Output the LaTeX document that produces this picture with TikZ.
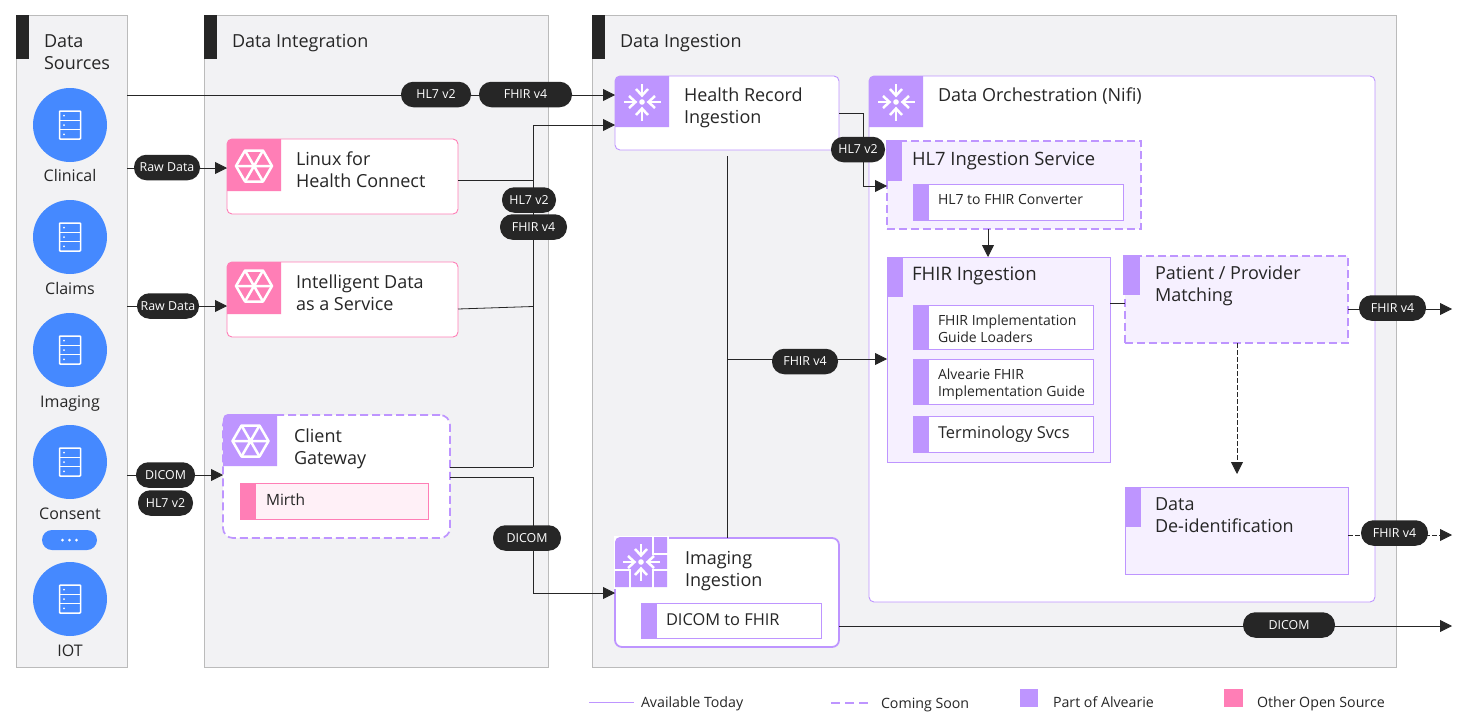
\documentclass[tikz,border=0pt]{standalone}
\usepackage{fontspec}
\setmainfont{Open Sans}
\usetikzlibrary{arrows.meta,calc}
\definecolor{ink}{HTML}{262626}
\definecolor{panelfill}{HTML}{F2F2F4}
\definecolor{panelline}{HTML}{BBBBBB}
\definecolor{purp}{HTML}{BE95FF}
\definecolor{purpfill}{HTML}{F6F0FF}
\definecolor{pink}{HTML}{FF7EB6}
\definecolor{pinkfill}{HTML}{FFF0F7}
\definecolor{blu}{HTML}{4589FF}
\tikzset{
  every node/.style={inner sep=0pt,outer sep=0pt},
  panel/.style={draw=panelline,fill=panelfill,line width=1pt},
  pinkbox/.style={draw=pink,fill=white,line width=.9pt,rounded corners=5},
  purpbox/.style={draw=purp,fill=white,line width=.9pt,rounded corners=5},
  purpboxthick/.style={draw=purp,fill=white,line width=1.8pt,rounded corners=7},
  dashround/.style={draw=purp,fill=white,line width=1.7pt,rounded corners=10,dash pattern=on 8pt off 4pt},
  dashsquare/.style={draw=purp,fill=purpfill,line width=1.7pt,dash pattern=on 8pt off 4pt},
  softbox/.style={draw=purp,fill=purpfill,line width=.9pt},
  innerbox/.style={draw=purp,fill=white,line width=.9pt},
  mirthbox/.style={draw=pink,fill=pinkfill,line width=.9pt},
  conn/.style={draw=ink,line width=.8pt},
  arr/.style={conn,-{Triangle[length=12pt,width=12pt]}},
  dconn/.style={draw=ink,line width=.8pt,dash pattern=on 4.5pt off 2.5pt},
  darr/.style={dconn,-{Triangle[length=12pt,width=12pt]}},
  pillnode/.style={fill=ink,text=white,rounded corners=12.4pt,minimum height=25.5pt,font=\fontsize{12.4}{14}\selectfont},
  srcdisc/.style={circle,fill=blu,minimum size=74pt},
  srclabel/.style={anchor=base,text=ink,font=\fontsize{16}{20}\selectfont},
  legendtext/.style={anchor=base west,text=ink,font=\fontsize{14.2}{16}\selectfont},
}
\newcommand\bx[6]{\node[#6,anchor=north west,minimum width={#4-#2},minimum height={#5-#3}] (#1) at (#2,#3) {};}
\newcommand\tile[5]{\fill[#5] (#1,#4) -- (#1,#2+5) arc (180:90:5pt) -- (#3,#2) -- (#3,#4) -- cycle;}
\newcommand\sq[5]{\fill[#5] (#1,#2) rectangle (#3,#4);}
\newcommand\tx[6][]{\node[anchor=north west,align=left,text=ink,font=\fontsize{#5}{22}\selectfont,#1] (#2) at (#3,#4-9.4) {\strut #6};}
\newcommand\txs[4]{\node[anchor=north west,align=left,text=ink,font=\fontsize{14}{17}\selectfont] (#1) at (#2,#3-6) {\strut #4};}
\newcommand\pill[5]{\node[pillnode,minimum width=#4pt] (#1) at (#2,#3) {#5};}
\newcommand\hexicon[2]{\begin{scope}[shift={(#1,#2)},draw=white,line width=2.5pt,line join=round]
 \draw (-18,0)--(-9,-15.5)--(9,-15.5)--(18,0)--(9,15.5)--(-9,15.5)--cycle;
 \draw (-18,0)--(18,0) (-9,-15.5)--(9,15.5) (9,-15.5)--(-9,15.5);
 \end{scope}}
\newcommand\ingicon[2]{\begin{scope}[shift={(#1,#2)},draw=white,line width=2.5pt]
 \fill[white] (0,0) circle (2.8pt);
 \foreach \a in {0,90,180,270}{\begin{scope}[rotate=\a]
   \draw (6.5,0)--(18.5,0);
   \draw (13,-6)--(6.5,0)--(13,6);
 \end{scope}}
 \end{scope}}
\newcommand\servericon[2]{\begin{scope}[shift={(#1,#2)},draw=white,line width=1.5pt,rounded corners=.8pt]
 \draw (-10.5,-14) rectangle (10.5,14);
 \draw (-10.5,-4.7)--(10.5,-4.7) (-10.5,4.7)--(10.5,4.7);
 \fill[white] (-6,-9.5) circle (1pt) (-6,0) circle (1pt) (-6,9.3) circle (1pt);
 \end{scope}}
\begin{document}
\begin{tikzpicture}[x=1pt,y=-1pt]
\useasboundingbox (0,0) rectangle (1458,726);
\fill[white] (0,0) rectangle (1458,726);
% panels
\bx{srcpanel}{16}{15}{127}{667}{panel}
\bx{intpanel}{204}{15}{548}{667}{panel}
\bx{ingpanel}{592}{15}{1396}{667}{panel}
\sq{16}{15}{29}{59}{ink}
\sq{204}{15}{217}{59}{ink}
\sq{592}{15}{605}{59}{ink}
\tx{tsrc}{44}{41}{18}{Data\\Sources}
\tx{tint}{232}{41}{18}{Data Integration}
\tx{ting}{620}{41}{18}{Data Ingestion}
% sources
\node[srcdisc] (clin) at (70,125) {};
\node[srcdisc] (clai) at (70,237) {};
\node[srcdisc] (imag) at (70,350) {};
\node[srcdisc] (cons) at (70,462) {};
\node[srcdisc] (iot) at (70,599) {};
\servericon{70}{125}\servericon{70}{237}\servericon{70}{350}\servericon{70}{462}\servericon{70}{599}
\node[srclabel] (lclin) at (70,181.5) {Clinical};
\node[srclabel] (lclai) at (70,294) {Claims};
\node[srclabel] (limag) at (70,407) {Imaging};
\node[srclabel] (lcons) at (70,519) {Consent};
\node[srclabel] (liot) at (70,656.5) {IOT};
\node[fill=blu,rounded corners=10pt,minimum width=55pt,minimum height=20pt] (more) at (69.5,540) {};
\fill[white] (62.5,540) circle (1.5pt) (69.5,540) circle (1.5pt) (76.5,540) circle (1.5pt);
% integration boxes
\bx{lfh}{227}{139}{458}{214}{pinkbox}
\tile{227}{139}{281}{191}{pink}\hexicon{254}{166}
\tx{tlfh}{296}{159}{18}{Linux for\\Health Connect}
\bx{ids}{227}{262}{458}{337}{pinkbox}
\tile{227}{262}{281}{314}{pink}\hexicon{254}{286}
\tx{tids}{296}{282}{18}{Intelligent Data\\as a Service}
\bx{cgw}{223}{415}{450}{538}{dashround}
\tile{223}{414}{277}{466}{purp}\hexicon{250.5}{441}
\tx{tcgw}{294}{436}{18}{Client\\Gateway}
\bx{mirth}{240}{483}{428}{519}{mirthbox}
\sq{240}{483}{256}{519}{pink}
\tx{tmirth}{266}{499}{15.5}{Mirth}
% ingestion boxes
\bx{hri}{615}{76}{839}{150}{purpbox}
\tile{615}{76}{669}{127}{purp}\ingicon{642}{102}
\tx{thri}{684}{95}{18}{Health Record\\Ingestion}
\bx{orch}{869}{76}{1375}{602}{purpbox}
\tile{869}{76}{923}{127}{purp}\ingicon{896}{102}
\tx{torch}{938}{95}{18}{Data Orchestration (Nifi)}
\bx{hl7i}{887}{141}{1141}{229}{dashsquare}
\sq{886}{140}{902}{181}{purp}
\tx{thl7i}{912}{159}{18.4}{HL7 Ingestion Service}
\bx{hl7c}{913}{184}{1123}{220}{innerbox}
\sq{913}{184}{929}{220}{purp}
\txs{thl7c}{938}{199}{HL7 to FHIR Converter}
\bx{fhir}{887}{257}{1110}{462}{softbox}
\sq{887}{257}{903}{297}{purp}
\tx{tfhir}{912}{274}{18.6}{FHIR Ingestion}
\bx{fl}{913}{305}{1093}{349}{innerbox}
\sq{913}{305}{929}{349}{purp}
\txs{tfl}{938}{320}{FHIR Implementation\\Guide Loaders}
\bx{ag}{913}{359}{1093}{404}{innerbox}
\sq{913}{359}{929}{404}{purp}
\txs{tag}{938}{374}{Alvearie FHIR\\Implementation Guide}
\bx{ts}{913}{416}{1093}{452}{innerbox}
\sq{913}{416}{929}{452}{purp}
\tx{tts}{938}{432}{16.4}{Terminology Svcs}
\bx{pat}{1125}{256}{1348}{343}{dashsquare}
\sq{1123}{255}{1140}{295}{purp}
\tx{tpat}{1155}{273}{18}{Patient / Provider\\Matching}
\bx{deid}{1125}{487}{1348}{574}{softbox}
\sq{1125}{487}{1141}{527}{purp}
\tx{tdeid}{1155}{504}{18}{Data\\De-identification}
\bx{img}{615}{538}{839}{647}{purpboxthick}
\fill[white] (614,536) rectangle (669,589);
\tile{615}{537}{667}{587}{purp}
\draw[white,line width=2pt] (615,570)--(630,570)--(630,588) (653,537)--(653,554)--(668,554) (668,570)--(653,570)--(653,588);
\ingicon{641}{562}
\tx{timg}{685}{558}{18}{Imaging\\Ingestion}
\bx{d2f}{641}{603}{821}{638}{innerbox}
\sq{641}{603}{657}{638}{purp}
\tx{td2f}{666}{619}{16.4}{DICOM to FHIR}
% free coordinates
\coordinate (busT) at (533,125);
\coordinate (busB) at (533,467);
\coordinate (bend1) at (533,477);
\coordinate (bend2) at (533,593);
\coordinate (bend3) at (863.5,113);
\coordinate (bend4) at (863.5,186);
\coordinate (vtop) at (727,156);
\coordinate (vmid) at (727,359);
\coordinate (end1) at (1452,309);
\coordinate (end2) at (1452,535);
\coordinate (end3) at (1452,626);
\coordinate (pdown) at (1237,474);
% connectors
\draw[arr] (srcpanel.east |- 0,95) -- (hri.west |- 0,95);
\draw[arr] (srcpanel.east |- 0,168) -- (lfh.west |- 0,168);
\draw[arr] (srcpanel.east |- 0,306) -- (ids.west |- 0,306);
\draw[arr] (srcpanel.east |- 0,475) -- (cgw.west |- 0,475);
\draw[arr] (busB) -- (busT) -- (hri.west |- busT);
\draw[conn] (lfh.east |- 0,180) -- (busT |- 0,180);
\draw[conn] (ids.east |- 0,309) -- (busT |- 0,306.5);
\draw[conn] (cgw.east |- busB) -- (busB);
\draw[arr] (cgw.east |- bend1) -- (bend1) -- (bend2) -- (img.west |- bend2);
\draw[arr] (hri.east |- bend3) -- (bend3) -- (bend4) -- (hl7i.west |- bend4);
\draw[conn] (vtop) -- (img.north -| vtop);
\draw[arr] (vmid) -- (fhir.west |- vmid);
\draw[arr] (hl7i.south -| 988,0) -- (fhir.north -| 988,0);
\draw[conn] (fhir.east |- 0,303) -- (pat.west |- 0,303);
\draw[arr] (pat.east |- end1) -- (end1);
\draw[darr] (pat.south -| pdown) -- (pdown);
\draw[darr] (deid.east |- end2) -- (end2);
\draw[arr] (img.east |- end3) -- (end3);
% pills
\pill{p1}{436}{94.5}{70}{HL7 v2}
\pill{p2}{525.5}{94.5}{93}{FHIR v4}
\pill{p3}{167}{167.5}{66}{Raw Data}
\pill{p4}{168}{306}{62}{Raw Data}
\pill{p5}{165.5}{475}{59}{DICOM}
\pill{p6}{165.5}{503}{55}{HL7 v2}
\pill{p7}{529}{200}{54}{HL7 v2}
\pill{p8}{533.5}{227}{67}{FHIR v4}
\pill{p9}{527}{538}{68}{DICOM}
\pill{p10}{858}{149.5}{54}{HL7 v2}
\pill{p11}{805}{361.5}{66}{FHIR v4}
\pill{p12}{1392.5}{308}{67}{FHIR v4}
\pill{p13}{1394.5}{533}{67}{FHIR v4}
\pill{p14}{1289}{625}{92}{DICOM}
% legend
\coordinate (la) at (589,702.5);\coordinate (lb) at (634,702.5);
\draw[purp,line width=1pt] (la) -- (lb);
\node[legendtext] (l1) at (641,707) {Available Today};
\coordinate (lc) at (831,702.5);\coordinate (ld) at (869,702.5);
\draw[purp,line width=2pt,dash pattern=on 9pt off 5pt] (lc) -- (ld);
\node[legendtext] (l2) at (881,708) {Coming Soon};
\sq{1020}{689}{1038}{707}{purp}
\node[legendtext] (l3) at (1053,707) {Part of Alvearie};
\sq{1224}{689}{1243}{707}{pink}
\node[legendtext] (l4) at (1257,707) {Other Open Source};
\end{tikzpicture}
\end{document}
